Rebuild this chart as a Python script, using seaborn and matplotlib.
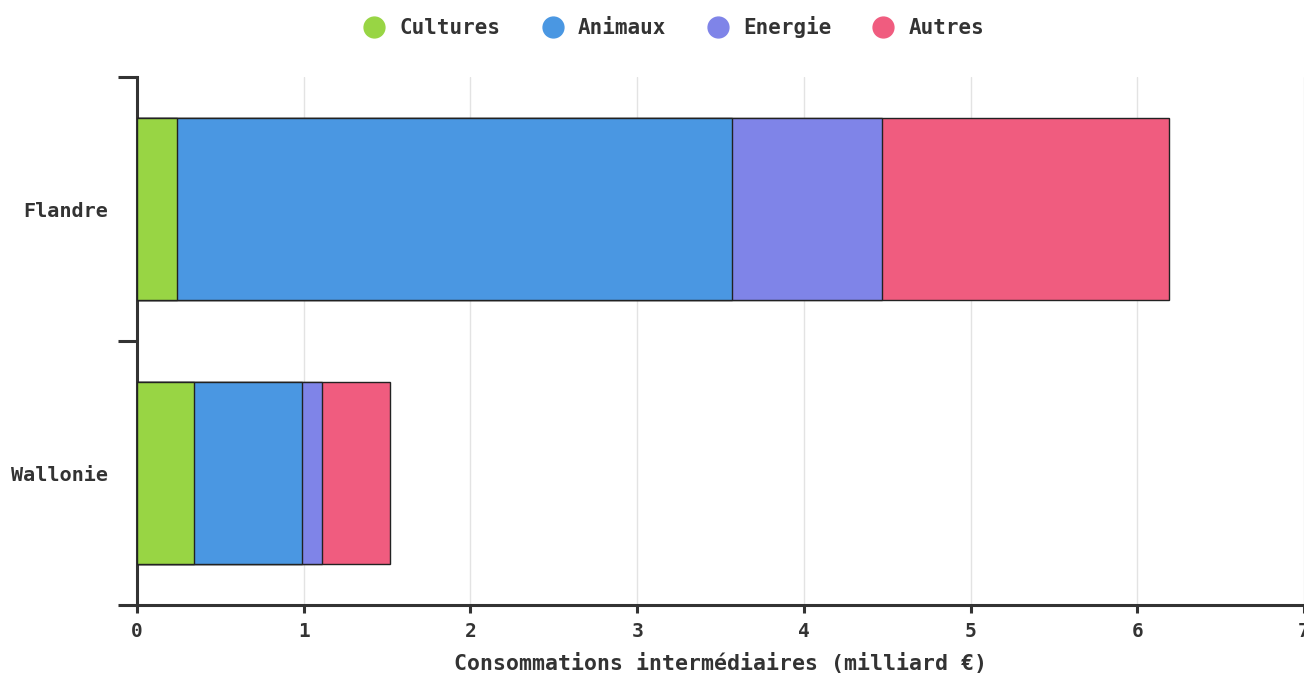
import matplotlib
matplotlib.use("Agg")
import matplotlib.pyplot as plt
from matplotlib.lines import Line2D
import seaborn as sns
import pandas as pd
import numpy as np

regions = ["Flandre", "Wallonie"]
series = ["Cultures", "Animaux", "Energie", "Autres"]
cultures = [0.24, 0.34]
animaux = [3.33, 0.65]
energie = [0.90, 0.12]
autres = [1.72, 0.41]
colors = ["#98D544", "#4A97E2", "#7F84E8", "#F05C7F"]
xticks = [0, 1, 2, 3, 4, 5, 6, 7]
xlabel = "Consommations intermédiaires (milliard €)"

sns.set_theme(style="white")
plt.rcParams["font.family"] = ["DejaVu Sans Mono", "DejaVu Sans"]
plt.rcParams["font.weight"] = "bold"
txt = "#333333"

values = np.array([cultures, animaux, energie, autres])
cum = np.cumsum(values, axis=0)

fig = plt.figure(figsize=(13.04, 6.79), dpi=100)
ax = fig.add_axes([137/1304, 1-605/679, 1-137/1304, (605-77)/679])

for i in range(len(series) - 1, -1, -1):
    df = pd.DataFrame({"region": regions, "value": cum[i]})
    sns.barplot(data=df, x="value", y="region", orient="h", color=colors[i],
                saturation=1, width=0.69, edgecolor="#222222", linewidth=1,
                ax=ax, zorder=3)

ax.set_xlim(0, 7)
ax.set_ylim(1.5, -0.5)
ax.set_xticks(xticks)
ax.set_xticklabels([str(t) for t in xticks], fontsize=14, fontweight="bold", color=txt)
ax.set_yticks([0, 1])
ax.set_yticklabels(regions, fontsize=14.5, fontweight="bold", color=txt)
ax.tick_params(axis="y", which="major", length=0, pad=21)
ax.set_yticks([-0.5, 0.5, 1.5], minor=True)
ax.tick_params(axis="y", which="minor", length=14, width=2.2, color="#333333", left=True)
ax.tick_params(axis="x", which="major", length=6, width=2.2, color="#333333", bottom=True, pad=6)
ax.grid(axis="x", color="#e3e3e3", linewidth=1, zorder=0)
ax.grid(axis="y", visible=False)
ax.set_axisbelow(True)
for s in ["top", "right"]:
    ax.spines[s].set_visible(False)
for s in ["left", "bottom"]:
    ax.spines[s].set_color("#333333")
    ax.spines[s].set_linewidth(2.2)
ax.set_ylabel("")
ax.set_xlabel(xlabel, fontsize=15.5, fontweight="bold", color=txt, labelpad=9)

handles = [Line2D([0], [0], marker="o", linestyle="", markersize=15,
                  markerfacecolor=c, markeredgecolor=c) for c in colors]
fig.legend(handles, series, loc="center", bbox_to_anchor=(0.513, 0.96), ncol=4,
           frameon=False, handletextpad=0.2, columnspacing=1.5,
           prop={"family": "DejaVu Sans Mono", "weight": "bold", "size": 15},
           labelcolor=txt)

fig.savefig("out.png", dpi=100)
